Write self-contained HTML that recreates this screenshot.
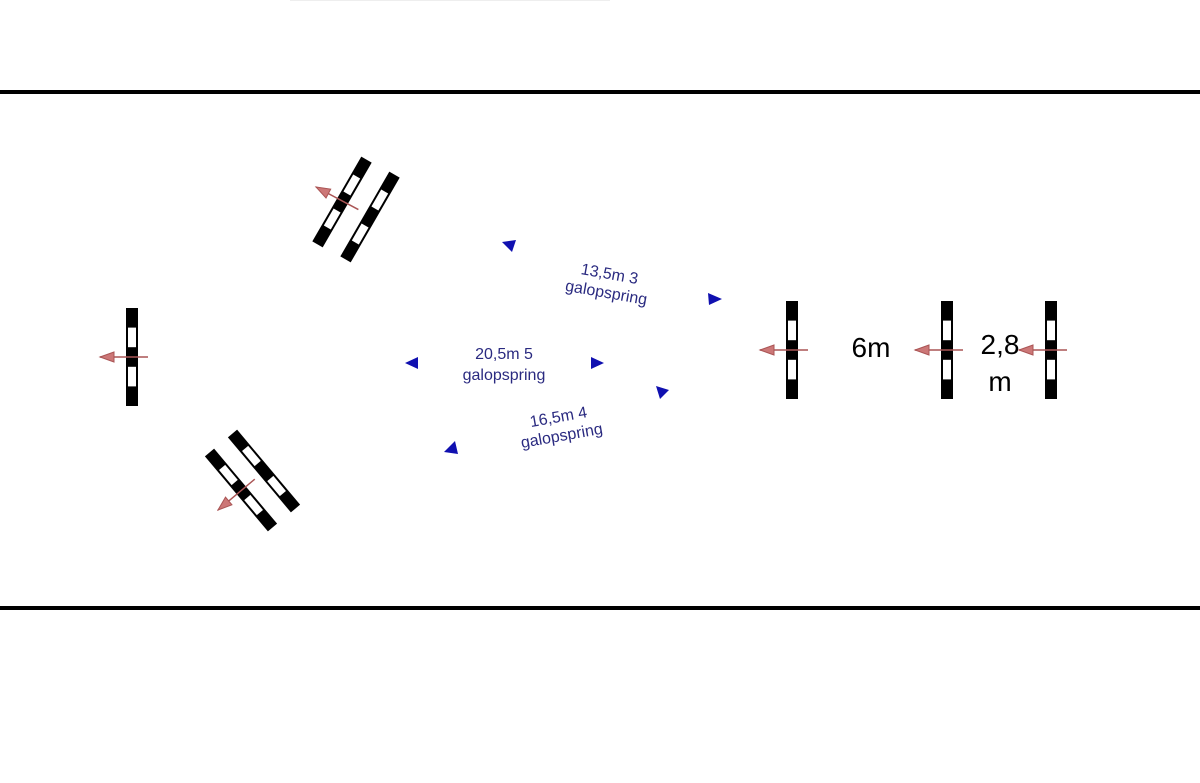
<!DOCTYPE html>
<html><head><style>
html,body{margin:0;padding:0;background:#fff;}
svg{display:block;}
text{font-family:"Liberation Sans",Arial,sans-serif;}
</style></head><body>
<svg width="1200" height="783" viewBox="0 0 1200 783" xmlns="http://www.w3.org/2000/svg">
<defs>
<g id="jump">
<rect x="-6" y="-49" width="12" height="98" fill="#000"/>
<rect x="-4" y="-29.4" width="8" height="19.6" fill="#fff"/>
<rect x="-4" y="9.8" width="8" height="19.6" fill="#fff"/>
</g>
<g id="arr">
<line x1="0" y1="0" x2="48" y2="0" stroke="#a55" stroke-width="1.5"/>
<polygon points="0,0 14,-5 14,5" fill="#c77" stroke="#a55" stroke-width="1"/>
</g>
</defs>
<rect x="0" y="90" width="1200" height="4" fill="#000"/>
<rect x="0" y="606" width="1200" height="4" fill="#000"/>
<rect x="290" y="0" width="320" height="1" fill="#eee"/>

<use href="#jump" transform="translate(132,357)"/>
<use href="#arr" transform="translate(100,357)"/>

<use href="#jump" transform="translate(792,350)"/>
<use href="#arr" transform="translate(760,350)"/>
<use href="#jump" transform="translate(947,350)"/>
<use href="#arr" transform="translate(915,350)"/>
<use href="#jump" transform="translate(1051,350)"/>
<use href="#arr" transform="translate(1019,350)"/>

<use href="#jump" transform="translate(342,202) rotate(30)"/>
<use href="#jump" transform="translate(370,217) rotate(30)"/>
<use href="#arr" transform="translate(316,187) rotate(28)"/>

<use href="#jump" transform="translate(241,490) rotate(-40)"/>
<use href="#jump" transform="translate(264,471) rotate(-40)"/>
<use href="#arr" transform="translate(218,510) rotate(-40)"/>

<g fill="#1010b0">
<polygon points="502,242 516,240 512,252"/>
<polygon points="722,299 708,293 709,305"/>
<polygon points="405,363 418,357 418,369"/>
<polygon points="604,363 591,357 591,369"/>
<polygon points="669,390 656,386 660,399"/>
<polygon points="444,452 455,441 458,454"/>
</g>

<g fill="#2a2a80" font-size="16" text-anchor="middle">
<g transform="translate(608,283) rotate(10)">
<text x="0" y="-4">13,5m 3</text><text x="0" y="15">galopspring</text></g>
<text x="504" y="359">20,5m 5</text>
<text x="504" y="380">galopspring</text>
<g transform="translate(560,426) rotate(-10)">
<text x="0" y="-4">16,5m 4</text><text x="0" y="15">galopspring</text></g>
</g>
<g fill="#000" font-size="28" text-anchor="middle">
<text x="871" y="357">6m</text>
<text x="1000" y="354">2,8</text>
<text x="1000" y="391">m</text>
</g>
</svg>
</body></html>
